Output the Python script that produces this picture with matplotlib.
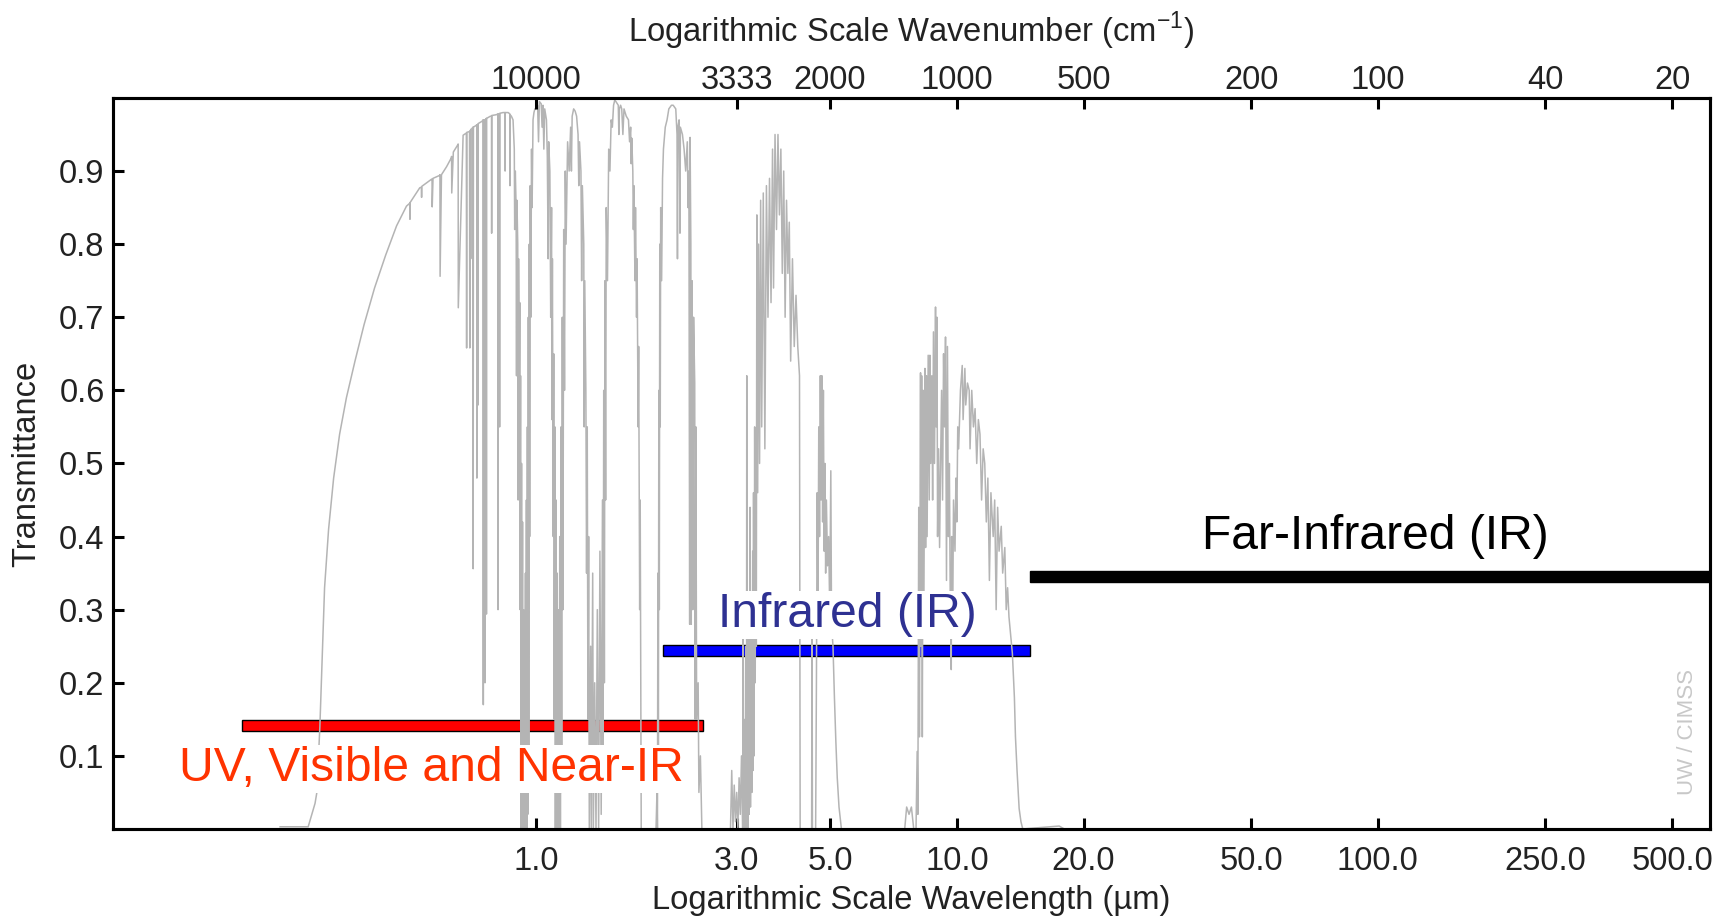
import numpy as np
import matplotlib.pyplot as plt
from matplotlib.ticker import NullLocator

# ---- spectrum: (wavelength um, transmittance), by band ----
uv_visible = [
    (0.247, 0.003), (0.288, 0.003), (0.299, 0.035), (0.302, 0.05), (0.307, 0.14),
    (0.310, 0.212), (0.315, 0.33), (0.322, 0.41), (0.331, 0.48), (0.342, 0.54),
    (0.355, 0.59), (0.372, 0.64), (0.391, 0.69), (0.414, 0.74), (0.440, 0.785),
    (0.467, 0.825), (0.493, 0.852), (0.502, 0.856), (0.5025, 0.834), (0.503, 0.857),
    (0.530, 0.877), (0.535, 0.878), (0.5355, 0.864), (0.536, 0.879), (0.566, 0.889),
    (0.567, 0.889), (0.5675, 0.851), (0.570, 0.890), (0.591, 0.894), (0.592, 0.895),
    (0.5925, 0.756), (0.597, 0.895), (0.614, 0.906), (0.630, 0.918), (0.631, 0.92),
    (0.6315, 0.87), (0.637, 0.926), (0.653, 0.936), (0.654, 0.937), (0.6545, 0.713),
    (0.672, 0.949), (0.684, 0.952), (0.685, 0.658), (0.686, 0.953), (0.696, 0.954),
    (0.697, 0.658), (0.698, 0.955), (0.700, 0.956), (0.7005, 0.78), (0.701, 0.957),
]
near_ir_1 = [
    (0.705, 0.958), (0.709, 0.96), (0.710, 0.356), (0.711, 0.96), (0.720, 0.962),
    (0.724, 0.963), (0.7245, 0.48), (0.725, 0.963), (0.729, 0.964), (0.7295, 0.58),
    (0.730, 0.965), (0.745, 0.968), (0.750, 0.97), (0.7505, 0.17), (0.751, 0.97),
    (0.757, 0.97), (0.7575, 0.20), (0.758, 0.97), (0.763, 0.972), (0.7635, 0.294),
    (0.764, 0.972), (0.780, 0.975), (0.785, 0.975), (0.7855, 0.815), (0.786, 0.976),
    (0.805, 0.977), (0.813, 0.978), (0.8135, 0.30), (0.814, 0.978), (0.820, 0.978),
    (0.8205, 0.55), (0.821, 0.979), (0.836, 0.98), (0.845, 0.98), (0.8455, 0.90),
    (0.846, 0.98), (0.860, 0.98), (0.868, 0.978), (0.8685, 0.88), (0.869, 0.977),
    (0.875, 0.975), (0.883, 0.97),
]
band_094 = [
    (0.889, 0.93), (0.891, 0.82), (0.894, 0.90), (0.898, 0.85), (0.900, 0.62),
    (0.902, 0.86), (0.906, 0.80), (0.908, 0.45), (0.910, 0.78), (0.914, 0.60),
    (0.916, 0.72), (0.918, 0.30), (0.920, 0.62), (0.922, 0.0), (0.925, 0.50),
    (0.927, 0.0), (0.930, 0.42), (0.932, 0.0), (0.935, 0.30), (0.937, 0.0),
    (0.940, 0.25), (0.942, 0.0), (0.945, 0.35), (0.947, 0.0), (0.950, 0.45),
    (0.952, 0.0), (0.955, 0.55), (0.957, 0.02), (0.960, 0.70), (0.962, 0.10),
    (0.965, 0.80), (0.967, 0.40), (0.970, 0.88), (0.973, 0.70), (0.977, 0.93),
    (0.980, 0.85), (0.985, 0.97), (0.990, 0.98), (0.995, 0.985),
]
band_113 = [
    (1.000, 0.985), (1.010, 0.99), (1.015, 0.94), (1.020, 0.995), (1.030, 0.992),
    (1.035, 0.96), (1.040, 0.99), (1.045, 0.93), (1.050, 0.985), (1.060, 0.97),
    (1.065, 0.92), (1.070, 0.78), (1.073, 0.94), (1.080, 0.90), (1.085, 0.70),
    (1.090, 0.85), (1.092, 0.56), (1.095, 0.78), (1.100, 0.40), (1.103, 0.65),
    (1.106, 0.15), (1.110, 0.55), (1.113, 0.0), (1.117, 0.45), (1.120, 0.0),
    (1.124, 0.35), (1.128, 0.0), (1.132, 0.30), (1.136, 0.0), (1.140, 0.40),
    (1.144, 0.0), (1.148, 0.55), (1.152, 0.05), (1.156, 0.70), (1.160, 0.30),
    (1.165, 0.82), (1.170, 0.60), (1.175, 0.90), (1.180, 0.80), (1.190, 0.94),
    (1.200, 0.90), (1.210, 0.96), (1.215, 0.90), (1.220, 0.975), (1.230, 0.985),
    (1.240, 0.982),
]
band_138 = [
    (1.250, 0.975), (1.260, 0.95), (1.265, 0.88), (1.270, 0.94), (1.280, 0.90),
    (1.285, 0.75), (1.290, 0.88), (1.300, 0.80), (1.303, 0.55), (1.307, 0.75),
    (1.315, 0.60), (1.320, 0.35), (1.325, 0.55), (1.330, 0.15), (1.335, 0.40),
    (1.340, 0.0), (1.350, 0.25), (1.355, 0.0), (1.365, 0.35), (1.370, 0.0),
    (1.380, 0.20), (1.390, 0.0), (1.400, 0.30), (1.410, 0.0), (1.420, 0.38),
    (1.430, 0.02), (1.440, 0.45), (1.445, 0.10), (1.450, 0.60), (1.455, 0.20),
    (1.460, 0.75), (1.465, 0.45), (1.470, 0.85), (1.480, 0.75), (1.490, 0.93),
    (1.500, 0.90), (1.510, 0.97), (1.520, 0.96), (1.530, 0.99), (1.540, 0.997),
]
band_187 = [
    (1.550, 0.995), (1.570, 0.99), (1.575, 0.95), (1.580, 0.985), (1.590, 0.99),
    (1.600, 0.985), (1.610, 0.95), (1.620, 0.985), (1.640, 0.975), (1.660, 0.97),
    (1.670, 0.94), (1.680, 0.96), (1.685, 0.91), (1.690, 0.945), (1.700, 0.90),
    (1.705, 0.82), (1.710, 0.88), (1.720, 0.75), (1.725, 0.85), (1.735, 0.70),
    (1.740, 0.78), (1.750, 0.55), (1.755, 0.66), (1.765, 0.30), (1.770, 0.45),
    (1.780, 0.0), (1.930, 0.0), (1.940, 0.05), (1.945, 0.0), (1.950, 0.35),
    (1.955, 0.10), (1.960, 0.60), (1.965, 0.30), (1.970, 0.80), (1.975, 0.55),
    (1.980, 0.85), (1.990, 0.75), (2.000, 0.89),
]
window_22 = [
    (2.010, 0.93), (2.030, 0.96), (2.050, 0.97), (2.070, 0.985), (2.100, 0.99),
    (2.120, 0.99), (2.150, 0.985), (2.165, 0.95), (2.170, 0.78), (2.175, 0.96),
    (2.190, 0.97), (2.200, 0.815), (2.205, 0.96), (2.230, 0.95), (2.250, 0.93),
    (2.270, 0.90), (2.290, 0.94), (2.300, 0.85), (2.310, 0.90), (2.320, 0.28),
    (2.325, 0.946), (2.335, 0.80), (2.340, 0.28), (2.350, 0.75), (2.360, 0.30),
    (2.370, 0.70), (2.385, 0.61), (2.390, 0.15), (2.400, 0.55), (2.410, 0.15),
    (2.430, 0.20), (2.440, 0.05), (2.460, 0.10), (2.480, 0.0), (2.500, 0.0),
]
window_38 = [
    (2.900, 0.0), (2.920, 0.08), (2.940, 0.0), (2.960, 0.06), (2.980, 0.01),
    (3.000, 0.05), (3.020, 0.0), (3.040, 0.07), (3.060, 0.02), (3.080, 0.10),
    (3.100, 0.0), (3.110, 0.27), (3.120, 0.0), (3.140, 0.15), (3.150, 0.0),
    (3.160, 0.25), (3.165, 0.0), (3.170, 0.62), (3.175, 0.0), (3.180, 0.20),
    (3.190, 0.0), (3.200, 0.27), (3.210, 0.02), (3.228, 0.44), (3.235, 0.03),
    (3.250, 0.30), (3.260, 0.05), (3.275, 0.38), (3.280, 0.08), (3.290, 0.46),
    (3.300, 0.10), (3.310, 0.55), (3.320, 0.20), (3.330, 0.50), (3.340, 0.25),
    (3.350, 0.84), (3.365, 0.46), (3.380, 0.80), (3.400, 0.50), (3.420, 0.86),
    (3.440, 0.55), (3.470, 0.87), (3.500, 0.52), (3.530, 0.88), (3.560, 0.70),
    (3.590, 0.89), (3.620, 0.72), (3.650, 0.93), (3.670, 0.74), (3.700, 0.95),
    (3.730, 0.82), (3.760, 0.95), (3.790, 0.84), (3.820, 0.93), (3.850, 0.76),
    (3.880, 0.90), (3.910, 0.70), (3.940, 0.86), (3.970, 0.76), (4.000, 0.83),
    (4.030, 0.64), (4.070, 0.78), (4.110, 0.66), (4.150, 0.73), (4.190, 0.66),
    (4.230, 0.62), (4.245, 0.0), (4.300, 0.0),
]
window_48 = [
    (4.520, 0.0), (4.530, 0.30), (4.540, 0.0), (4.620, 0.0), (4.640, 0.20),
    (4.660, 0.46), (4.680, 0.30), (4.700, 0.55), (4.720, 0.40), (4.740, 0.62),
    (4.760, 0.45), (4.780, 0.62), (4.800, 0.42), (4.820, 0.60), (4.840, 0.38),
    (4.860, 0.50), (4.880, 0.35), (4.900, 0.45), (4.930, 0.36), (4.960, 0.40),
    (4.990, 0.30), (5.020, 0.49), (5.040, 0.28), (5.080, 0.25), (5.120, 0.18),
    (5.160, 0.12), (5.200, 0.07), (5.250, 0.03), (5.320, 0.0),
]
window_10 = [
    (7.450, 0.0), (7.520, 0.0), (7.600, 0.03), (7.700, 0.02), (7.800, 0.03),
    (7.900, 0.0), (8.000, 0.0), (8.050, 0.106), (8.080, 0.02), (8.120, 0.44),
    (8.150, 0.126), (8.200, 0.624), (8.220, 0.25), (8.250, 0.62), (8.280, 0.126),
    (8.320, 0.60), (8.350, 0.30), (8.400, 0.63), (8.430, 0.385), (8.470, 0.62),
    (8.500, 0.40), (8.550, 0.648), (8.600, 0.45), (8.630, 0.648), (8.670, 0.50),
    (8.720, 0.62), (8.760, 0.45), (8.800, 0.68), (8.850, 0.50), (8.900, 0.714),
    (8.930, 0.55), (8.970, 0.70), (9.000, 0.40), (9.050, 0.52), (9.100, 0.385),
    (9.150, 0.50), (9.200, 0.60), (9.250, 0.45), (9.300, 0.65), (9.350, 0.55),
    (9.400, 0.673), (9.450, 0.34), (9.500, 0.66), (9.550, 0.40), (9.600, 0.50),
    (9.650, 0.30), (9.700, 0.218), (9.720, 0.40), (9.780, 0.30), (9.820, 0.45),
    (9.900, 0.38), (9.950, 0.48), (10.00, 0.42), (10.05, 0.55), (10.10, 0.52),
    (10.20, 0.60), (10.30, 0.634), (10.35, 0.56), (10.45, 0.63), (10.50, 0.58),
    (10.60, 0.61), (10.70, 0.60), (10.75, 0.52), (10.85, 0.60), (10.95, 0.55),
    (11.05, 0.575), (11.15, 0.50), (11.25, 0.56), (11.35, 0.54), (11.45, 0.45),
    (11.55, 0.52), (11.65, 0.50), (11.75, 0.42), (11.85, 0.48), (11.95, 0.34),
    (12.05, 0.46), (12.20, 0.40), (12.30, 0.45), (12.40, 0.30), (12.50, 0.44),
    (12.60, 0.38), (12.75, 0.414), (12.85, 0.35), (13.00, 0.385), (13.10, 0.30),
    (13.20, 0.33), (13.30, 0.29), (13.45, 0.26), (13.55, 0.24), (13.70, 0.18),
    (13.78, 0.126), (13.90, 0.08), (14.06, 0.028), (14.20, 0.01), (14.34, 0.0),
    (17.50, 0.004), (18.00, 0.0), (19.50, 0.0),
]
spectrum = [uv_visible, near_ir_1, band_094, band_113, band_138, band_187,
            window_22, window_38, window_48, window_10]

# ---- band bars and labels ----
bar_left = [0.2, 2.0, 14.95]
bar_right = [2.5, 14.95, 615]
bar_y = [0.142, 0.244, 0.345]
bar_colors = ["#ff0000", "#0000ff", "#000000"]
band_names = ["UV, Visible and Near-IR", "Infrared (IR)", "Far-Infrared (IR)"]
name_x = [0.565, 5.5, 98.5]
name_y = [0.065, 0.276, 0.383]
name_colors = ["#ff3300", "#2e3192", "#000000"]

# ---- axes ticks ----
wl_ticks = [1, 3, 5, 10, 20, 50, 100, 250, 500]
wl_labels = ["1.0", "3.0", "5.0", "10.0", "20.0", "50.0", "100.0", "250.0", "500.0"]
wn_labels = ["10000", "3333", "2000", "1000", "500", "200", "100", "40", "20"]
t_ticks = [0.1, 0.2, 0.3, 0.4, 0.5, 0.6, 0.7, 0.8, 0.9]

plt.rcParams["font.family"] = ["Liberation Sans", "DejaVu Sans"]
plt.rcParams["mathtext.fontset"] = "custom"
plt.rcParams["mathtext.rm"] = "Liberation Sans"

txt = "#222222"
fig = plt.figure(figsize=(17.32, 9.17), dpi=100)
ax = fig.add_axes([0.0652, 0.0960, 0.9221, 0.7972])
ax.set_xscale("log")
ax.set_xlim(0.099, 615)
ax.set_ylim(0, 1)

widths = [r - l for l, r in zip(bar_left, bar_right)]
ax.barh(bar_y, widths, left=bar_left, height=0.015, color=bar_colors,
        edgecolor="black", linewidth=1.0, zorder=1.5)

wl, tr = np.concatenate([np.array(s) for s in spectrum]).T
ax.plot(wl, tr, color="#b4b4b4", lw=1.1, zorder=2)

for s, x, y, c in zip(band_names, name_x, name_y, name_colors):
    ax.text(x, y, s, color=c, fontsize=34.6, ha="center", va="baseline",
            bbox=dict(facecolor="white", edgecolor="none", pad=1), zorder=4)

ax.text(0.986, 0.133, "UW / CIMSS", transform=ax.transAxes, rotation=90,
        fontsize=16, color="#c8c8c8", ha="center", va="center")

ax.set_xticks(wl_ticks)
ax.set_xticklabels(wl_labels)
ax.xaxis.set_minor_locator(NullLocator())
ax.set_yticks(t_ticks)
ax.set_yticklabels([f"{t:.1f}" for t in t_ticks])
ax.tick_params(direction="in", length=8, width=2.2, labelsize=23.5, labelcolor=txt)
ax.tick_params(axis="x", pad=12)
ax.tick_params(axis="y", pad=6)
ax.set_xlabel("Logarithmic Scale Wavelength (µm)", fontsize=23.6, color=txt, labelpad=6)
ax.set_ylabel("Transmittance", fontsize=23.6, color=txt, labelpad=12)

top = ax.twiny()
top.set_xscale("log")
top.set_xlim(ax.get_xlim())
top.set_xticks(wl_ticks)
top.set_xticklabels(wn_labels)
top.xaxis.set_minor_locator(NullLocator())
top.tick_params(direction="in", length=8, width=2.2, labelsize=23.5, labelcolor=txt, pad=1.5)
top.set_xlabel(r"Logarithmic Scale Wavenumber (cm$^{\mathrm{-1}}$)", fontsize=23.6,
               color=txt, labelpad=16.5)

for a in (ax, top):
    for sp in a.spines.values():
        sp.set_linewidth(2.2)
        sp.set_color("black")

fig.savefig("out.png", dpi=100)
